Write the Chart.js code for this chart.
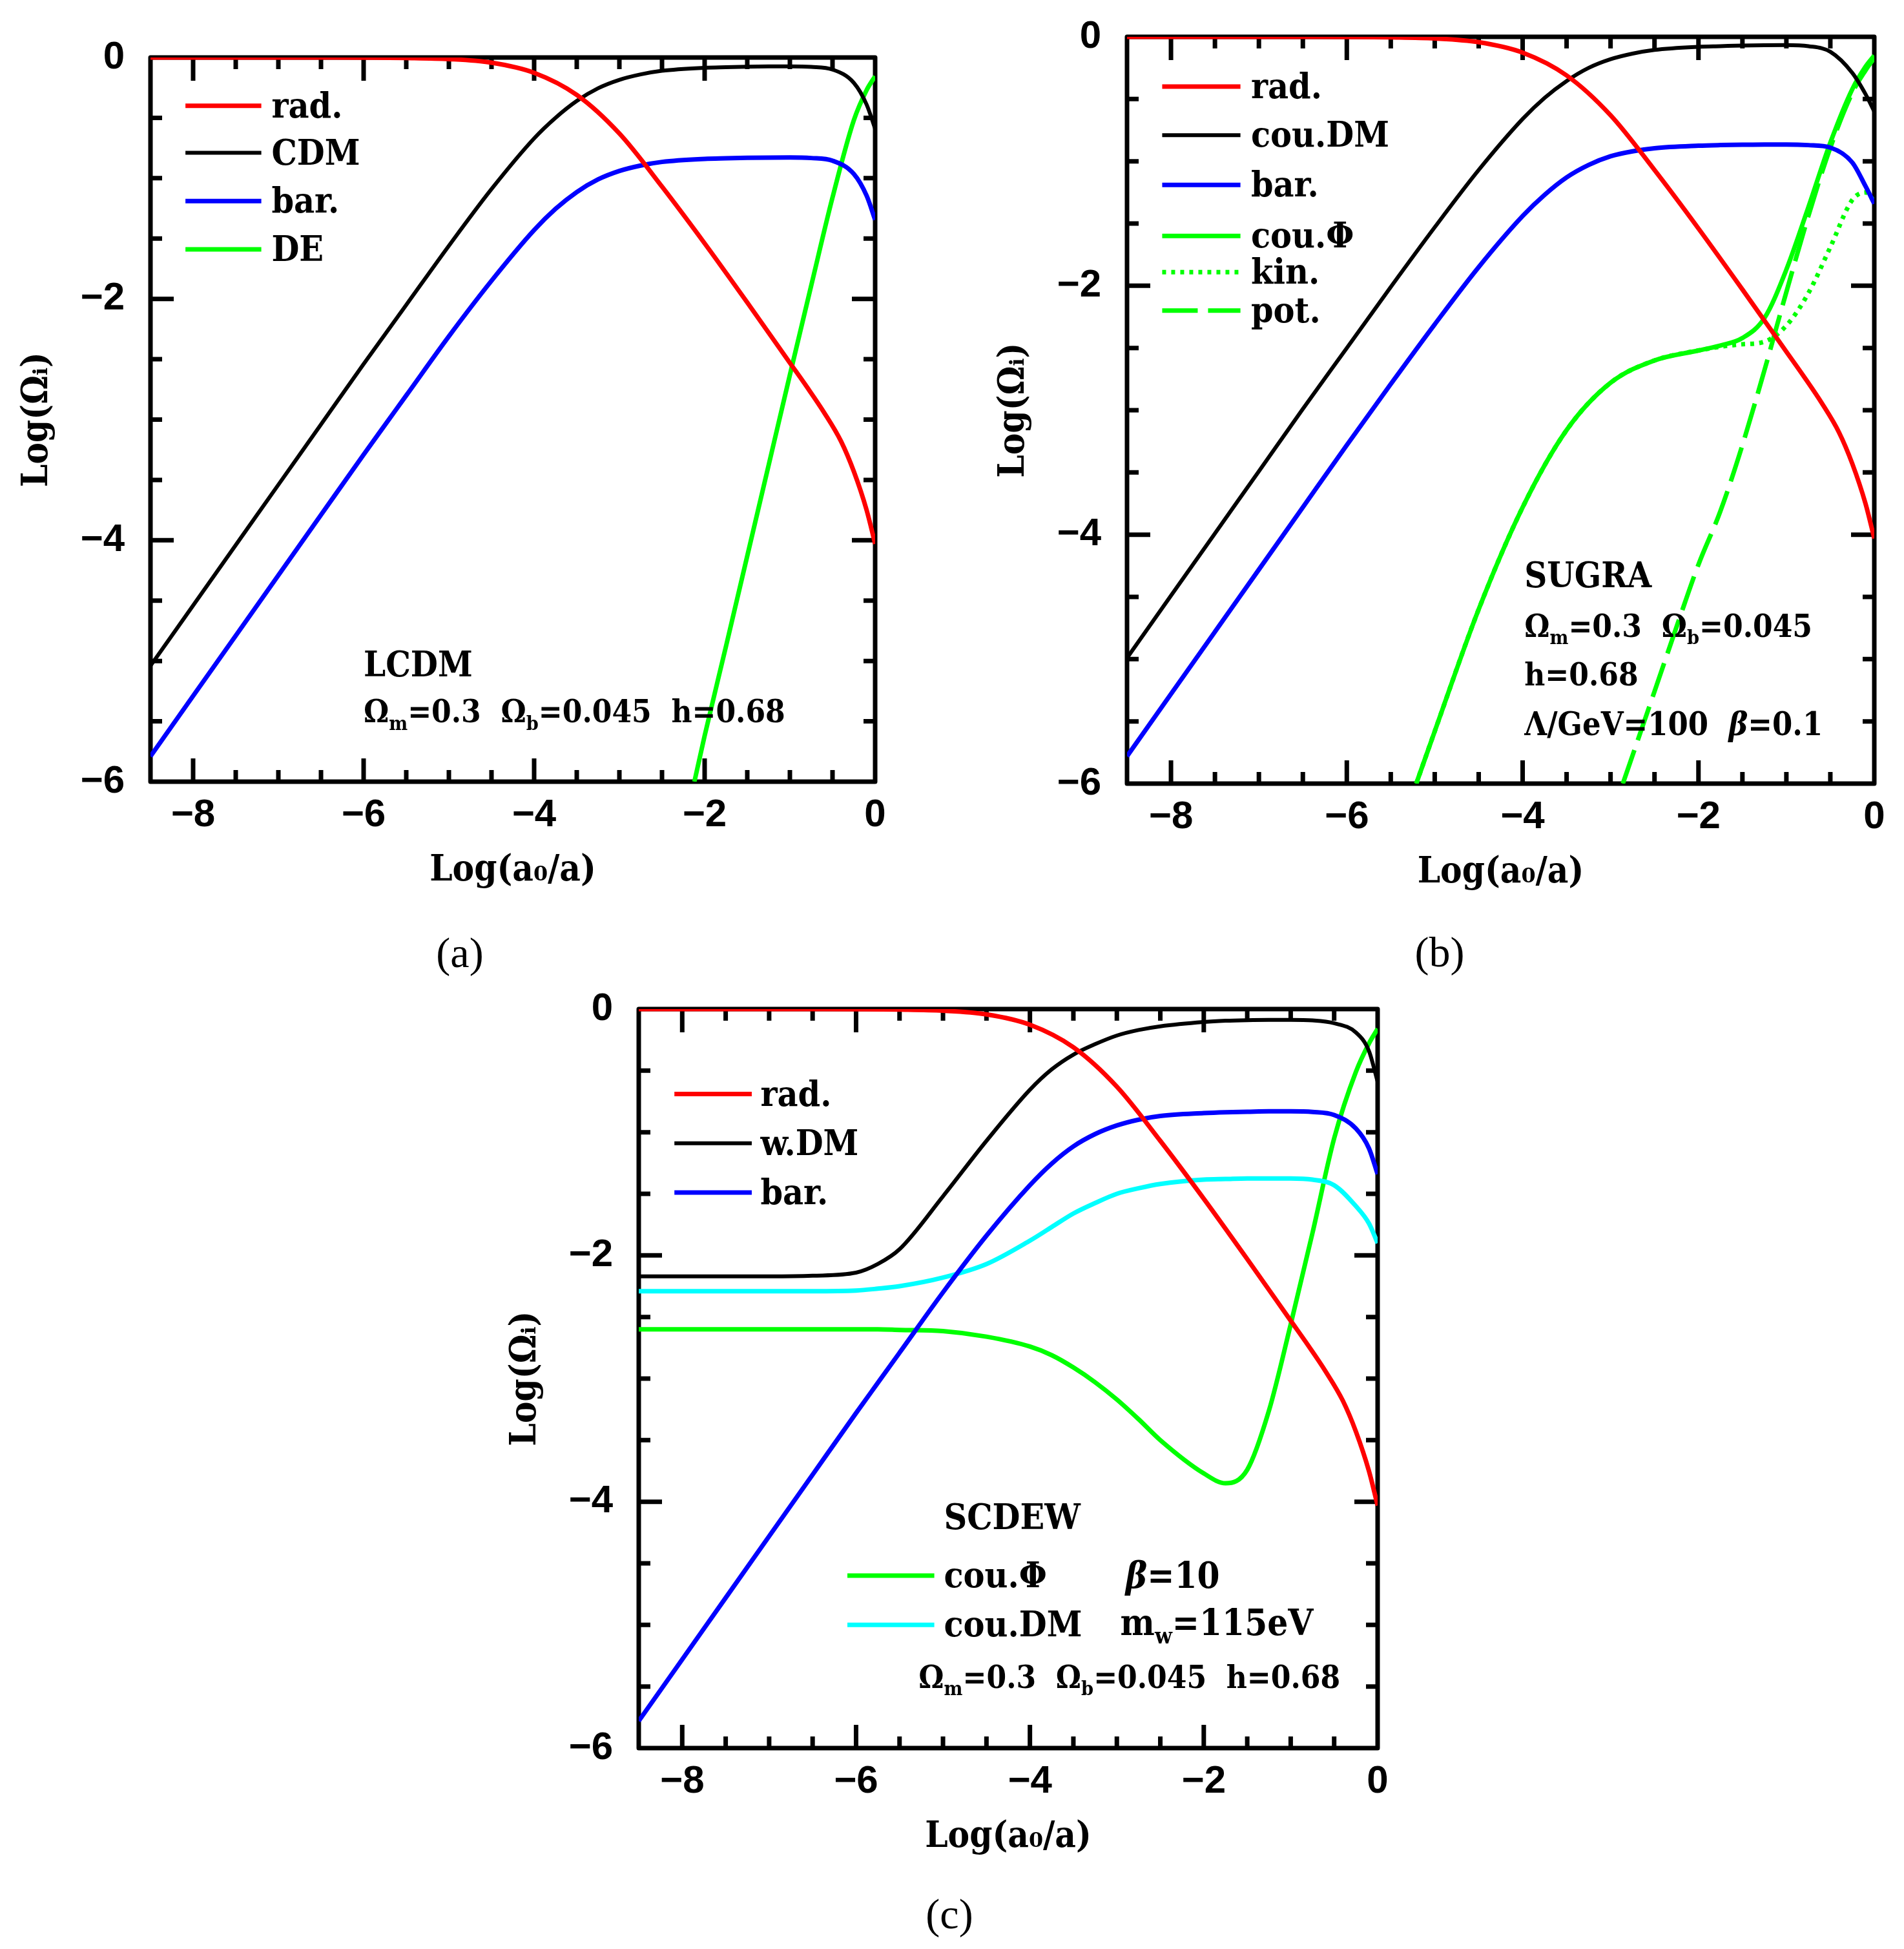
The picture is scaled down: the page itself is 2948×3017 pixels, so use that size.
<!DOCTYPE html>
<html>
<head>
<meta charset="utf-8">
<script src="https://cdn.jsdelivr.net/npm/chart.js@4.4.1/dist/chart.umd.min.js"></script>
<style>
html, body { margin: 0; padding: 0; background: #fff; width: 2948px; height: 3017px; overflow: hidden; position: relative; }
canvas { position: absolute; }
.cap { position: absolute; font-family: "Liberation Serif", serif; font-size: 66px; line-height: 1; transform: translate(-50%, -50%); }
</style>
</head>
<body>
<canvas id="panelA"></canvas>
<canvas id="panelB"></canvas>
<canvas id="panelC"></canvas>
<div class="cap" style="left:712px; top:1475px">(a)</div>
<div class="cap" style="left:2229px; top:1474px">(b)</div>
<div class="cap" style="left:1470px; top:2963px">(c)</div>
<script>
// shared abscissa, Log(a0/a)
const xGrid = [-8.5, -8, -7.5, -7, -6.5, -6, -5.75, -5.5, -5, -4.5, -4, -3.75, -3.5, -3.25, -3, -2.75, -2.5, -2, -1.75, -1.5, -1.25, -1, -0.75, -0.5, -0.25, -0.1, 0];
const xMajor = [-8, -6, -4, -2, 0];
const yMajor = [-6, -4, -2, 0];

// radiation, same in the three panels
const radX = [-8.5, -8, -7.5, -7, -6.5, -6, -5.5, -5, -4.5, -4, -3.5, -3, -2.5, -2, -1.5, -1, -0.8, -0.6, -0.4, -0.25, -0.1, 0];
const radY = [0, 0, 0, 0, -0.0005, -0.0013, -0.004, -0.013, -0.043, -0.127, -0.31, -0.63, -1.07, -1.54, -2.03, -2.53, -2.73, -2.94, -3.18, -3.43, -3.75, -4.03];

// (a) LCDM
const aCdmY = [-5.04, -4.54, -4.04, -3.54, -3.04, -2.54, -2.295, -2.05, -1.56, -1.09, -0.67, -0.50, -0.36, -0.255, -0.185, -0.14, -0.11, -0.085, -0.08, -0.076, -0.074, -0.073, -0.078, -0.10, -0.21, -0.39, -0.59];
const aBarY = [-5.79, -5.29, -4.79, -4.29, -3.79, -3.29, -3.045, -2.80, -2.31, -1.85, -1.43, -1.255, -1.115, -1.01, -0.94, -0.895, -0.865, -0.84, -0.835, -0.831, -0.829, -0.828, -0.833, -0.855, -0.965, -1.145, -1.345];
const aDeX = [-2.12, -2, -1.75, -1.5, -1.25, -1, -0.75, -0.5, -0.25, -0.1, 0];
const aDeY = [-6.0, -5.62, -4.88, -4.13, -3.38, -2.63, -1.89, -1.16, -0.52, -0.27, -0.155];

// (b) SUGRA
const bCdmY = [-4.99, -4.49, -3.99, -3.49, -2.99, -2.5, -2.255, -2.01, -1.53, -1.07, -0.66, -0.49, -0.355, -0.25, -0.18, -0.135, -0.105, -0.08, -0.075, -0.07, -0.067, -0.066, -0.075, -0.12, -0.29, -0.46, -0.60];
const bBarY = [-5.78, -5.28, -4.78, -4.28, -3.78, -3.28, -3.035, -2.79, -2.31, -1.85, -1.44, -1.27, -1.13, -1.03, -0.96, -0.92, -0.895, -0.875, -0.87, -0.867, -0.865, -0.865, -0.87, -0.89, -1.01, -1.20, -1.34];
const bPhiX = [-5.21, -5, -4.5, -4, -3.5, -3, -2.5, -2, -1.75, -1.5, -1.25, -1, -0.75, -0.5, -0.25, -0.1, 0];
const bPhiY = [-6.0, -5.58, -4.6, -3.78, -3.16, -2.78, -2.60, -2.52, -2.48, -2.42, -2.26, -1.87, -1.37, -0.85, -0.42, -0.24, -0.15];
const bKinY = [-6.0, -5.58, -4.6, -3.78, -3.16, -2.78, -2.60, -2.52, -2.49, -2.47, -2.45, -2.32, -2.06, -1.69, -1.31, -1.25, -1.32];
const bPotX = [-2.86, -2.5, -2.21, -2, -1.75, -1.5, -1.25, -1, -0.75, -0.5, -0.25, -0.1, 0];
const bPotY = [-6.0, -5.26, -4.66, -4.24, -3.81, -3.28, -2.68, -2.05, -1.44, -0.89, -0.45, -0.27, -0.17];

// (c) SCDEW
const cWdmY = [-2.17, -2.17, -2.17, -2.17, -2.165, -2.14, -2.07, -1.95, -1.52, -1.07, -0.655, -0.49, -0.37, -0.285, -0.215, -0.17, -0.14, -0.105, -0.095, -0.09, -0.088, -0.088, -0.092, -0.115, -0.19, -0.34, -0.59];
const cBarY = [-5.78, -5.28, -4.78, -4.28, -3.78, -3.28, -3.035, -2.79, -2.30, -1.84, -1.43, -1.255, -1.115, -1.015, -0.945, -0.898, -0.868, -0.845, -0.838, -0.834, -0.83, -0.83, -0.835, -0.86, -0.97, -1.13, -1.34];
const cDmY = [-2.29, -2.29, -2.29, -2.29, -2.29, -2.285, -2.27, -2.25, -2.18, -2.07, -1.88, -1.77, -1.66, -1.575, -1.50, -1.455, -1.42, -1.385, -1.38, -1.375, -1.375, -1.375, -1.385, -1.43, -1.60, -1.74, -1.90];
const cPhiY = [-2.60, -2.60, -2.60, -2.60, -2.60, -2.60, -2.60, -2.605, -2.615, -2.66, -2.74, -2.81, -2.91, -3.03, -3.17, -3.33, -3.50, -3.77, -3.85, -3.74, -3.26, -2.56, -1.82, -1.05, -0.51, -0.28, -0.16];

const RED = '#ff0000', BLACK = '#000000', BLUE = '#0000ff', GREEN = '#00ff00', CYAN = '#00ffff';
const SERIF = '"DejaVu Serif Condensed", "DejaVu Serif", serif';
const SANS = '"Liberation Sans", Arial, sans-serif';
const DOTS = [6, 8], DASH = [55, 16];

// the y tick padding makes Chart.js reserve ~68px on top, so keep PAD_T above it
const PAD_T = 70, PAD_R = 44, Y_W = 230, X_H = 240;

function line(xs, ys, color, extra) {
	return Object.assign({
		data: xs.map((x, i) => ({ x: x, y: ys[i] })),
		borderColor: color,
		borderWidth: color === BLACK ? 6 : 7,
		pointRadius: 0,
		fill: false,
		cubicInterpolationMode: 'monotone'
	}, extra || {});
}

function minus(v) {
	return v === 0 ? '0' : '\u2212' + Math.abs(v);
}

function drawRich(ctx, px, py, parts, size) {
	let cx = px;
	parts.forEach(([t, m]) => {
		const sub = m === 's';
		const fs = sub ? size * 0.62 : size;
		ctx.font = (m === 'i' ? 'italic ' : '') + 'bold ' + fs + 'px ' + SERIF;
		ctx.fillText(t, cx, sub ? py + size * 0.24 : py);
		cx += ctx.measureText(t).width;
	});
}

// frame, inward ticks, legend and notes
function decor(cfg) {
	return {
		id: 'decor',
		beforeDatasetsDraw(chart) {
			const { ctx, chartArea: a, scales: { x, y } } = chart;
			ctx.save();
			ctx.strokeStyle = '#000';
			ctx.lineWidth = 7;
			ctx.beginPath();
			for (let v = -8; v < 0; v += 0.5) {
				const px = x.getPixelForValue(v);
				const len = xMajor.includes(v) ? 36 : 18;
				ctx.moveTo(px, a.bottom); ctx.lineTo(px, a.bottom - len);
				ctx.moveTo(px, a.top); ctx.lineTo(px, a.top + len);
			}
			for (let v = -5.5; v < 0; v += 0.5) {
				const py = y.getPixelForValue(v);
				const len = yMajor.includes(v) ? 36 : 18;
				ctx.moveTo(a.left, py); ctx.lineTo(a.left + len, py);
				ctx.moveTo(a.right, py); ctx.lineTo(a.right - len, py);
			}
			ctx.stroke();
			ctx.lineJoin = 'round';
			ctx.strokeRect(a.left, a.top, a.right - a.left, a.bottom - a.top);
			ctx.restore();
		},
		afterDatasetsDraw(chart) {
			const { ctx, scales: { x, y } } = chart;
			ctx.save();
			ctx.fillStyle = '#000';
			ctx.textBaseline = 'alphabetic';
			cfg.legend.forEach(e => {
				const py = y.getPixelForValue(e.y);
				ctx.strokeStyle = e.color;
				ctx.lineWidth = e.color === BLACK ? 6 : 7;
				ctx.setLineDash(e.dash || []);
				ctx.beginPath();
				ctx.moveTo(x.getPixelForValue(e.x1), py);
				ctx.lineTo(x.getPixelForValue(e.x2), py);
				ctx.stroke();
				ctx.setLineDash([]);
				ctx.font = 'bold 55px ' + SERIF;
				ctx.fillText(e.label, x.getPixelForValue(e.tx), py + 18);
			});
			cfg.notes.forEach(n => {
				drawRich(ctx, x.getPixelForValue(n.x), y.getPixelForValue(n.y), n.parts, n.size);
			});
			ctx.restore();
		}
	};
}

function makeChart(id, left, top, w, h, datasets, cfg) {
	const cv = document.getElementById(id);
	cv.width = w + Y_W + PAD_R;
	cv.height = h + PAD_T + X_H;
	cv.style.left = (left - Y_W) + 'px';
	cv.style.top = (top - PAD_T) + 'px';
	cv.style.width = cv.width + 'px';
	cv.style.height = cv.height + 'px';
	const tickFont = { family: SANS, size: 60, weight: 'bold', lineHeight: 1.2 };
	const titleFont = { family: SERIF, size: 56, weight: 'bold', lineHeight: 1.2 };
	return new Chart(cv.getContext('2d'), {
		type: 'line',
		data: { datasets: datasets },
		plugins: [decor(cfg)],
		options: {
			responsive: false,
			animation: false,
			devicePixelRatio: 1,
			layout: { padding: { top: PAD_T, right: PAD_R, left: 0, bottom: 0 } },
			plugins: { legend: { display: false }, tooltip: { enabled: false } },
			scales: {
				x: {
					type: 'linear',
					min: -8.5,
					max: 0,
					afterBuildTicks: s => { s.ticks = xMajor.map(v => ({ value: v })); },
					afterFit: s => { s.height = X_H; },
					grid: { display: false },
					border: { display: false },
					ticks: { callback: minus, font: tickFont, color: '#000', padding: 8, maxRotation: 0, autoSkip: false },
					title: { display: true, text: 'Log(a\u2080/a)', font: titleFont, color: '#000', padding: { top: 0, bottom: 68 } }
				},
				y: {
					type: 'linear',
					min: -6,
					max: 0,
					afterBuildTicks: s => { s.ticks = yMajor.map(v => ({ value: v })); },
					afterFit: s => { s.width = Y_W; },
					grid: { display: false },
					border: { display: false },
					ticks: { callback: minus, font: tickFont, color: '#000', padding: 32 },
					title: { display: true, text: 'Log(\u03a9\u1d62)', font: titleFont, color: '#000', padding: { top: 22, bottom: 0 } }
				}
			}
		}
	});
}

makeChart('panelA', 233, 89, 1122, 1121, [
	line(radX, radY, RED),
	line(xGrid, aCdmY, BLACK),
	line(xGrid, aBarY, BLUE),
	line(aDeX, aDeY, GREEN)
], {
	legend: [
		{ label: 'rad.', color: RED, x1: -8.09, x2: -7.2, tx: -7.08, y: -0.40 },
		{ label: 'CDM', color: BLACK, x1: -8.09, x2: -7.2, tx: -7.08, y: -0.79 },
		{ label: 'bar.', color: BLUE, x1: -8.09, x2: -7.2, tx: -7.08, y: -1.19 },
		{ label: 'DE', color: GREEN, x1: -8.09, x2: -7.2, tx: -7.08, y: -1.59 }
	],
	notes: [
		{ x: -6.0, y: -5.13, size: 54, parts: [['LCDM']] },
		{ x: -6.0, y: -5.51, size: 49, parts: [['\u03a9'], ['m', 's'], ['=0.3  \u03a9'], ['b', 's'], ['=0.045  h=0.68']] }
	]
});

makeChart('panelB', 1745, 57, 1157, 1156, [
	line(radX, radY, RED),
	line(xGrid, bCdmY, BLACK),
	line(xGrid, bBarY, BLUE),
	line(bPhiX, bPhiY, GREEN),
	line(bPhiX, bKinY, GREEN, { borderDash: DOTS }),
	line(bPotX, bPotY, GREEN, { borderDash: DASH })
], {
	legend: [
		{ label: 'rad.', color: RED, x1: -8.1, x2: -7.21, tx: -7.09, y: -0.40 },
		{ label: 'cou.DM', color: BLACK, x1: -8.1, x2: -7.21, tx: -7.09, y: -0.79 },
		{ label: 'bar.', color: BLUE, x1: -8.1, x2: -7.21, tx: -7.09, y: -1.19 },
		{ label: 'cou.\u03a6', color: GREEN, x1: -8.1, x2: -7.21, tx: -7.09, y: -1.60 },
		{ label: 'kin.', color: GREEN, dash: DOTS, x1: -8.1, x2: -7.21, tx: -7.09, y: -1.89 },
		{ label: 'pot.', color: GREEN, dash: DASH, x1: -8.1, x2: -7.21, tx: -7.09, y: -2.20 }
	],
	notes: [
		{ x: -3.98, y: -4.42, size: 54, parts: [['SUGRA']] },
		{ x: -3.98, y: -4.82, size: 49, parts: [['\u03a9'], ['m', 's'], ['=0.3  \u03a9'], ['b', 's'], ['=0.045']] },
		{ x: -3.98, y: -5.21, size: 49, parts: [['h=0.68']] },
		{ x: -3.98, y: -5.61, size: 50, parts: [['\u039b/GeV=100  '], ['\u03b2', 'i'], ['=0.1']] }
	]
});

makeChart('panelC', 989, 1562, 1144, 1144, [
	line(radX, radY, RED),
	line(xGrid, cWdmY, BLACK),
	line(xGrid, cBarY, BLUE),
	line(xGrid, cDmY, CYAN),
	line(xGrid, cPhiY, GREEN)
], {
	legend: [
		{ label: 'rad.', color: RED, x1: -8.09, x2: -7.2, tx: -7.1, y: -0.69 },
		{ label: 'w.DM', color: BLACK, x1: -8.09, x2: -7.2, tx: -7.1, y: -1.09 },
		{ label: 'bar.', color: BLUE, x1: -8.09, x2: -7.2, tx: -7.1, y: -1.49 },
		{ label: 'cou.\u03a6', color: GREEN, x1: -6.1, x2: -5.1, tx: -4.99, y: -4.60 },
		{ label: 'cou.DM', color: CYAN, x1: -6.1, x2: -5.1, tx: -4.99, y: -5.0 }
	],
	notes: [
		{ x: -4.99, y: -4.22, size: 55, parts: [['SCDEW']] },
		{ x: -2.9, y: -4.70, size: 56, parts: [['\u03b2', 'i'], ['=10']] },
		{ x: -2.96, y: -5.08, size: 56, parts: [['m'], ['w', 's'], ['=115eV']] },
		{ x: -5.28, y: -5.51, size: 49, parts: [['\u03a9'], ['m', 's'], ['=0.3  \u03a9'], ['b', 's'], ['=0.045  h=0.68']] }
	]
});
</script>
</body>
</html>
